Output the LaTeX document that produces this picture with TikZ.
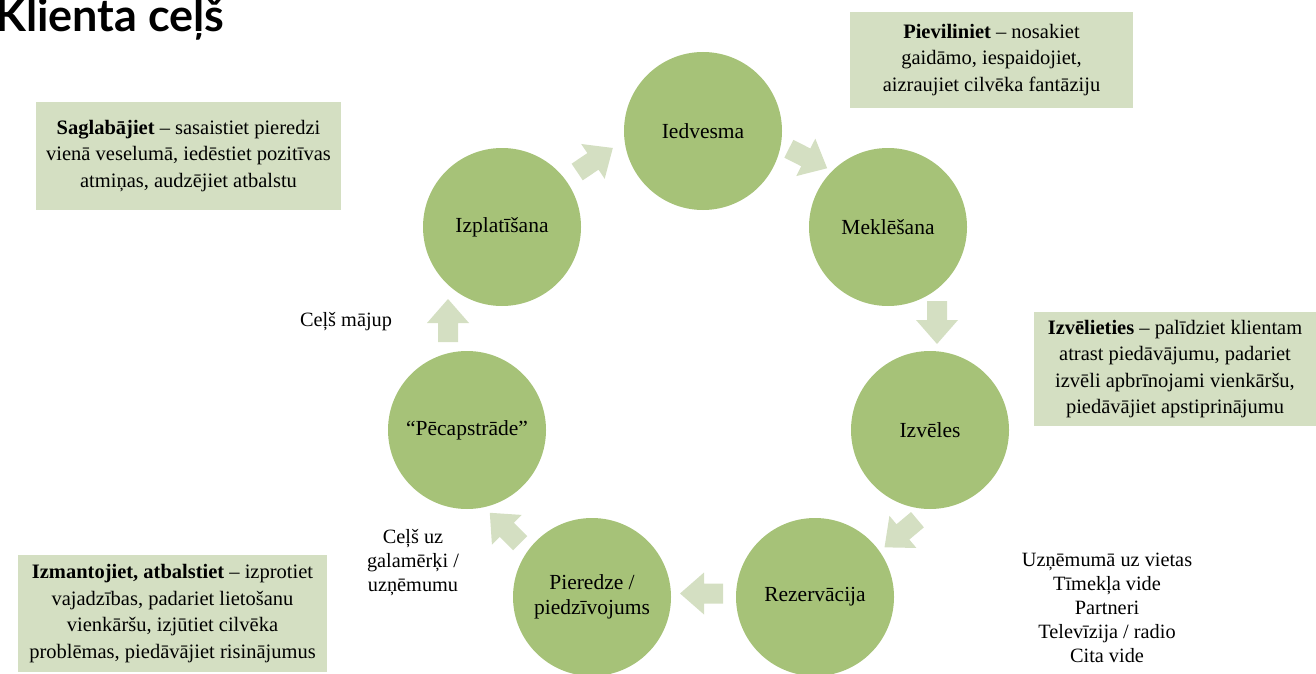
\documentclass[tikz,border=0pt]{standalone}
\usepackage{fontspec}
\setmainfont{Liberation Serif}
\newfontfamily\titlefont{Lato}
\definecolor{circ}{HTML}{A6C278}
\definecolor{pale}{HTML}{D4DFC2}
\tikzset{
  stage/.style={circle, fill=circ, minimum size=158pt, inner sep=0pt, align=center,
    font=\fontsize{21.5}{25}\selectfont},
  infobox/.style={fill=pale, align=center, inner sep=0pt,
    font=\fontsize{20.5}{26.5}\selectfont},
  plain/.style={align=center, inner sep=0pt, font=\fontsize{20.3}{24}\selectfont},
  blockarr/.pic={\fill[pale] (-21.5,-10) -- (-2.5,-10) -- (-2.5,-21) -- (21.5,0) -- (-2.5,21) -- (-2.5,10) -- (-21.5,10) -- cycle;}
}
\begin{document}
\begin{tikzpicture}[x=1pt,y=-1pt]
\useasboundingbox (0,0) rectangle (1316,674);
\node[anchor=base west, inner sep=0pt, font=\titlefont\bfseries\fontsize{45}{50}\selectfont] (title) at (-5,32) {Klienta ceļš};

% stages
\node[stage] (ied) at (703,131) {Iedvesma};
\node[stage] (mek) at (888,227) {Meklēšana};
\node[stage] (izv) at (930,430) {Izvēles};
\node[stage] (rez) at (815,597) {Rezervācija};
\node[stage] (pie) at (592,597) {Pieredze /\\piedzīvojums};
\node[stage] (pec) at (467,430) {“Pēcapstrāde”};
\node[stage] (izp) at (502,227) {Izplatīšana};

% block arrows
\pic[rotate=34] (a1) at (595,160) {blockarr};
\pic[rotate=-27] (a2) at (808,158.5) {blockarr};
\pic[rotate=-90] (a3) at (937,322.5) {blockarr};
\pic[rotate=-140] (a4) at (901,533.5) {blockarr};
\pic[rotate=180] (a5) at (701.5,593.5) {blockarr};
\pic[rotate=135] (a6) at (505,528) {blockarr};
\pic[rotate=90] (a7) at (448,320.5) {blockarr};

% info boxes
\node[infobox, minimum width=283pt, minimum height=96pt] (b1) at (991.5,60)
  {\textbf{Pieviliniet} – nosakiet\\gaidāmo, iespaidojiet,\\aizraujiet cilvēka fantāziju};
\node[infobox, minimum width=305pt, minimum height=108pt] (b2) at (188.5,156)
  {\textbf{Saglabājiet} – sasaistiet pieredzi\\vienā veselumā, iedēstiet pozitīvas\\atmiņas, audzējiet atbalstu};
\node[infobox, minimum width=282pt, minimum height=114pt] (b3) at (1175,369)
  {\textbf{Izvēlieties} – palīdziet klientam\\atrast piedāvājumu, padariet\\izvēli apbrīnojami vienkāršu,\\piedāvājiet apstiprinājumu};
\node[infobox, minimum width=309pt, minimum height=117pt] (b4) at (172.5,613.5)
  {\textbf{Izmantojiet, atbalstiet} – izprotiet\\vajadzības, padariet lietošanu\\vienkāršu, izjūtiet cilvēka\\problēmas, piedāvājiet risinājumus};

% free texts
\node[plain] (home) at (346,322) {Ceļš mājup};
\node[plain] (dest) at (413,563) {Ceļš uz\\galamērķi /\\uzņēmumu};
\node[plain] (chan) at (1107,608) {Uzņēmumā uz vietas\\Tīmekļa vide\\Partneri\\Televīzija / radio\\Cita vide};
\end{tikzpicture}
\end{document}
